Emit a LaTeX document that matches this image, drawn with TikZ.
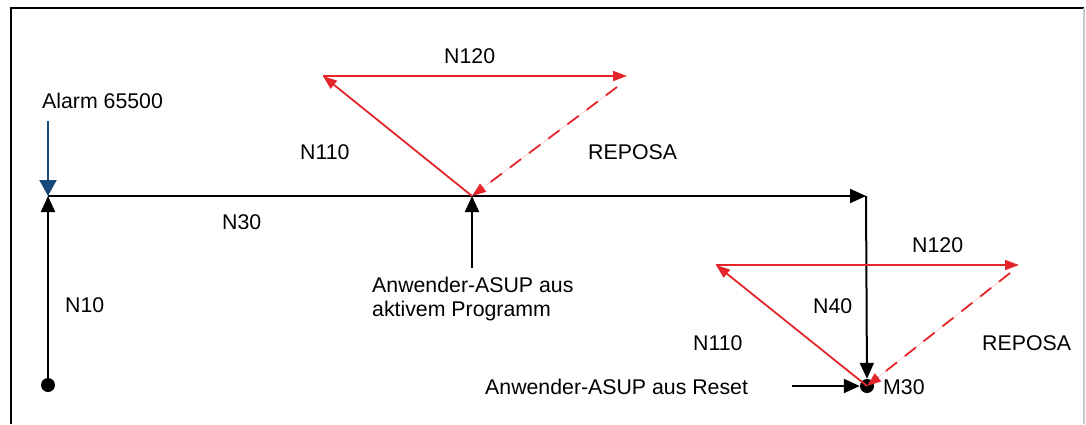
\documentclass[tikz,border=0pt]{standalone}
\usepackage{fontspec}
\setmainfont{Liberation Sans}
\usetikzlibrary{arrows.meta}
\definecolor{pathred}{RGB}{228,38,42}
\definecolor{alarmblue}{RGB}{22,74,120}
\definecolor{framegray}{RGB}{200,200,200}

\begin{document}
\begin{tikzpicture}[x=1pt,y=-1pt,
  lbl/.style={anchor=base west,inner sep=0pt,font=\fontsize{21.3}{24}\selectfont},
  dot/.style={circle,fill=black,inner sep=0pt,minimum size=14pt},
  flow/.style={draw=black,line width=2pt,-{Triangle[length=16pt,width=14pt]}},
  redflow/.style={draw=pathred,fill=pathred,line width=1.8pt,-{Triangle[length=14pt,width=10pt]}},
  repos/.style={redflow,dash pattern=on 14pt off 10pt},
  alarm/.style={draw=alarmblue,fill=alarmblue,line width=2pt,-{Triangle[length=16pt,width=17pt]}},
]
\useasboundingbox (0,0) rectangle (1086,424);

% frame
\draw[line width=2.5pt] (11,424) -- (11,8) -- (1084,8);
\draw[framegray,line width=1.5pt] (1084,8) -- (1084,424);

% main path points
\node[dot] (start) at (48,385) {};
\coordinate (c1) at (48,196);
\coordinate (apexA) at (472,196);
\coordinate (c2) at (866,196);
\node[dot] (m30) at (867,386) {};

% interrupt triangle at N30
\coordinate (tlA) at (323,76);
\coordinate (trA) at (627,76);
\coordinate (trAs) at (617,87);

% interrupt triangle at M30
\coordinate (tlB) at (716,265);
\coordinate (trB) at (1019,265);
\coordinate (trBs) at (1010,273);

% sources of external events
\coordinate (alarmsrc) at (48,121);
\coordinate (asupsrc) at (472,268);
\coordinate (resetsrc) at (792,386);

% labels
\node[lbl] (lalarm) at (42,108) {Alarm 65500};
\node[lbl] (ln10) at (65,312) {N10};
\node[lbl] (ln30) at (222,229) {N30};
\node[lbl] (ln40) at (813,313) {N40};
\node[lbl] (lm30) at (883,394) {M30};
\node[lbl] (ln110a) at (300,159) {N110};
\node[lbl] (ln120a) at (444,63) {N120};
\node[lbl] (lrepa) at (588,159) {REPOSA};
\node[lbl] (ln110b) at (693,350) {N110};
\node[lbl] (ln120b) at (912,252) {N120};
\node[lbl] (lrepb) at (982,350) {REPOSA};
\node[lbl,align=left,anchor=north west] (lasup) at (372,277) {Anwender-ASUP aus\\aktivem Programm};
\node[lbl] (lreset) at (485,394) {Anwender-ASUP aus Reset};

% main program flow
\draw[flow] (start) -- (c1);
\draw[flow] (c1) -- (c2);
\draw[flow] (c2) -- (m30);

% external events
\draw[alarm] (alarmsrc) -- (c1);
\draw[flow] (asupsrc) -- (apexA);
\draw[flow] (resetsrc) -- (m30);

% ASUP moves
\draw[redflow] (apexA) -- (tlA);
\draw[redflow] (tlA) -- (trA);
\draw[repos] (trAs) -- (apexA);
\draw[redflow] (m30.center) -- (tlB);
\draw[redflow] (tlB) -- (trB);
\draw[repos] (trBs) -- (m30.center);
\end{tikzpicture}
\end{document}
